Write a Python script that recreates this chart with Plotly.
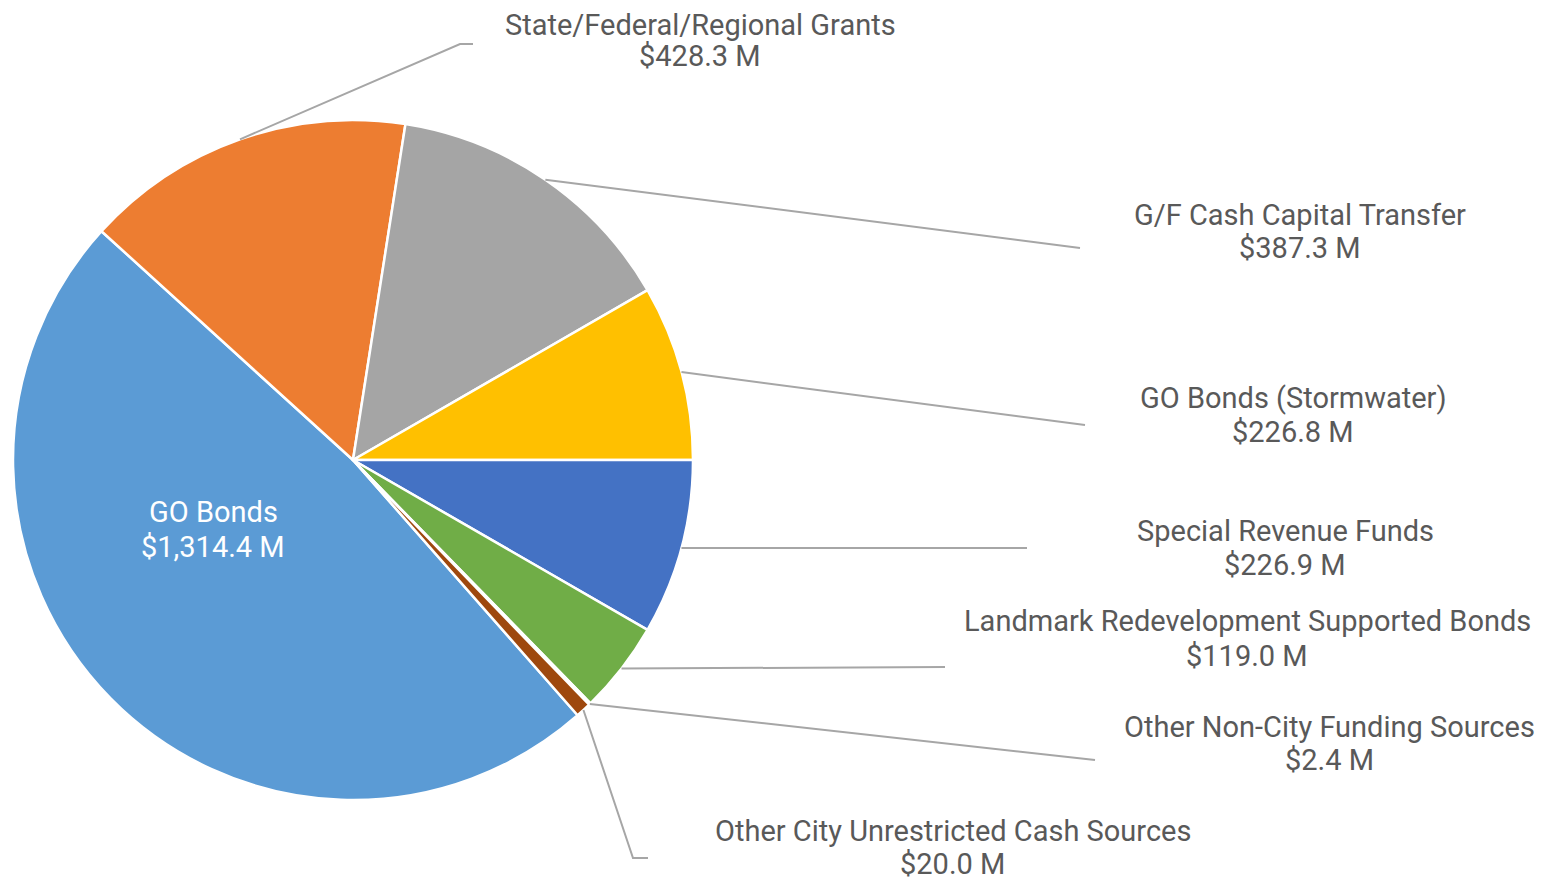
import math
import plotly.graph_objects as go

# ---- data ----
categories = [
    "GO Bonds",
    "State/Federal/Regional Grants",
    "G/F Cash Capital Transfer",
    "GO Bonds (Stormwater)",
    "Special Revenue Funds",
    "Landmark Redevelopment Supported Bonds",
    "Other Non-City Funding Sources",
    "Other City Unrestricted Cash Sources",
]
values = [1314.4, 428.3, 387.3, 226.8, 226.9, 119.0, 2.4, 20.0]
colors = ["#5B9BD5", "#ED7D31", "#A5A5A5", "#FFC000", "#4472C4", "#70AD47", "#264478", "#9E480E"]

# ---- layout constants (pixels, in screenshot coordinates) ----
OFF = 8  # page body margin
W, H = 1545, 880
CX, CY, R = 353, 460, 340
FONT = "Roboto"
FS = 29
TXT = "#595959"
LINE = "#A6A6A6"

# label placements: (center x, name line y, value line y, leader path points after the slice edge)
label_layout = {
    "GO Bonds": (213, 512, 547, None),
    "State/Federal/Regional Grants": (700, 25, 56, [(460, 44), (473, 44)]),
    "G/F Cash Capital Transfer": (1300, 215, 248, [(1080, 248)]),
    "GO Bonds (Stormwater)": (1293, 398, 432, [(1085, 425)]),
    "Special Revenue Funds": (1285, 531, 565, [(1027, 548)]),
    "Landmark Redevelopment Supported Bonds": (1247, 621, 656, [(945, 667)]),
    "Other Non-City Funding Sources": (1329, 727, 760, [(1095, 760)]),
    "Other City Unrestricted Cash Sources": (953, 831, 864, [(633, 858), (648, 858)]),
}

total = sum(values)
# gold/blue boundary sits at 3 o'clock
rotation = 90 - 360 * sum(values[:4]) / total

def px(x):
    return (x - OFF) / W

def py(y):
    return 1 - (y - OFF) / H

fig = go.Figure(go.Pie(
    labels=categories,
    values=values,
    sort=False,
    direction="clockwise",
    rotation=rotation,
    marker=dict(colors=colors, line=dict(color="white", width=2.5)),
    textinfo="none",
    hoverinfo="skip",
    showlegend=False,
    domain=dict(x=[px(CX - R), px(CX + R)], y=[py(CY + R), py(CY - R)]),
))

shapes = []
annotations = []
cum = 0.0
for name, v in zip(categories, values):
    mid = rotation + 360 * (cum + v / 2) / total
    cum += v
    lx, ny, vy, path = label_layout[name]
    color = "white" if path is None else TXT
    for txt, yy in ((name, ny), (f"${v:,.1f} M", vy)):
        annotations.append(dict(x=px(lx), y=py(yy), xref="paper", yref="paper",
                                text=txt, showarrow=False, align="center",
                                xanchor="center", yanchor="middle",
                                font=dict(family=FONT, size=FS, color=color)))
    if path is None:
        continue
    a = math.radians(mid)
    sx, sy = CX + R * math.sin(a), CY - R * math.cos(a)
    pts = [(sx, sy)] + path
    d = "M " + " L ".join(f"{px(x):.5f},{py(y):.5f}" for x, y in pts)
    shapes.append(dict(type="path", path=d, xref="paper", yref="paper",
                       line=dict(color=LINE, width=2)))

fig.update_layout(
    width=W, height=H,
    margin=dict(l=0, r=0, t=0, b=0),
    paper_bgcolor="white",
    plot_bgcolor="white",
    shapes=shapes,
    annotations=annotations,
)
fig.write_html("out.html")
